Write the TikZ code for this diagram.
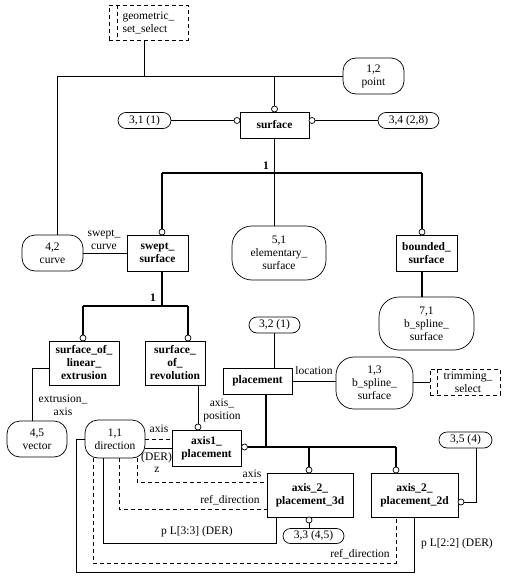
\documentclass[tikz,border=0pt]{standalone}
\usepackage{fontspec}
\setmainfont{Liberation Serif}
\usetikzlibrary{calc}
\newcommand{\dfont}{\fontsize{11.5}{13}\selectfont}
\tikzset{
  ln/.style={line width=0.7pt},
  tk/.style={line width=1.4pt},
  dsh/.style={line width=0.7pt, dash pattern=on 4pt off 3pt},
  ent/.style={draw, line width=0.7pt, font=\dfont\bfseries, align=center, inner sep=0pt, fill=white},
  pref/.style={draw, line width=0.7pt, rounded corners=#1, font=\dfont, align=center, inner sep=0pt, fill=white},
  selbox/.style={draw, dsh, font=\dfont, inner sep=0pt},
  oc/.style={circle, draw, fill=white, inner sep=0pt, minimum size=6pt, line width=0.7pt},
  lbl/.style={font=\dfont, align=center, inner sep=0pt},
}
\begin{document}
\begin{tikzpicture}[x=1pt,y=-1pt]
\useasboundingbox (0,0) rectangle (511,578);

% ---------- nodes ----------
\node[selbox, align=left, minimum width=79, minimum height=35] (gss) at (148.5,22.5) {geometric\_\\set\_select};
\draw[dsh] ($(gss.north west)+(9,0)$) -- ($(gss.south west)+(9,0)$);
\node[pref=13, minimum width=61, minimum height=36] (point) at (373.5,76) {1,2\\point};
\node[ent, minimum width=69, minimum height=26] (surface) at (274.5,125) {surface};
\node[pref=8, minimum width=53, minimum height=16] (p31) at (144.5,120.5) {3,1 (1)};
\node[pref=8, minimum width=61, minimum height=16] (p34) at (408.5,120.5) {3,4 (2,8)};
\node[pref=13, minimum width=61, minimum height=36] (curve) at (52.5,253) {4,2\\curve};
\node[ent, minimum width=61, minimum height=36] (swept) at (157.5,253) {swept\_\\surface};
\node[pref=20, minimum width=94, minimum height=54] (elem) at (279,253) {5,1\\elementary\_\\surface};
\node[ent, minimum width=61, minimum height=36] (bounded) at (426.5,253) {bounded\_\\surface};
\node[pref=20, minimum width=95, minimum height=53] (bss71) at (426.5,323.5) {7,1\\b\_spline\_\\surface};
\node[ent, minimum width=70, minimum height=44] (sole) at (84,363) {surface\_of\_\\linear\_\\extrusion};
\node[ent, minimum width=60, minimum height=44] (sor) at (175,363) {surface\_\\of\_\\revolution};
\node[pref=8, minimum width=51, minimum height=16] (p32) at (274.5,325) {3,2 (1)};
\node[ent, minimum width=69, minimum height=26] (placement) at (257.5,381) {placement};
\node[pref=18, minimum width=77, minimum height=52] (bss13) at (374.5,383) {1,3\\b\_spline\_\\surface};
\node[selbox, align=center, minimum width=70, minimum height=26] (trim) at (465,382) {\hspace*{6pt}trimming\_\\\hspace*{6pt}select};
\draw[dsh] ($(trim.north west)+(8,0)$) -- ($(trim.south west)+(8,0)$);
\node[pref=13, minimum width=60, minimum height=36] (vector) at (37,439) {4,5\\vector};
\node[pref=13, minimum width=60, minimum height=38] (dir) at (115,439) {1,1\\direction};
\node[ent, minimum width=69, minimum height=36] (a1p) at (206.5,448) {axis1\_\\placement};
\node[ent, minimum width=86, minimum height=44] (a3d) at (310,495) {axis\_2\_\\placement\_3d};
\node[ent, minimum width=87, minimum height=44] (a2d) at (414.5,495) {axis\_2\_\\placement\_2d};
\node[pref=8, minimum width=53, minimum height=16] (p35) at (465.5,440) {3,5 (4)};
\node[pref=7.5, minimum width=61, minimum height=15] (p33) at (313.5,536) {3,3 (4,5)};

% ---------- circles ----------
\node[oc] (cs) at (274.5,109) {};
\node[oc] (c31) at (237,120.5) {};
\node[oc] (c34) at (312,120.5) {};
\node[oc] (csw) at (162,232) {};
\node[oc] (cbd) at (422,232) {};
\node[oc] (csl) at (83,338) {};
\node[oc] (csr) at (188,338) {};
\node[oc] (ca1t) at (198,427) {};
\node[oc] (ca1r) at (244.5,447) {};
\node[oc] (c3t) at (309,470) {};
\node[oc] (c2t) at (396,470) {};
\node[oc] (c2r) at (461,502) {};
\node[oc] (c3b) at (309,520) {};

% ---------- top bus ----------
\coordinate (bj) at (144,76);
\coordinate (bl) at (57,76);
\coordinate (bs) at (274.5,76);
\draw[ln] (gss.south -| bj) -- (bj);
\draw[ln] (bl) -- (point.west);
\draw[ln] (bl) -- (curve.north -| bl);
\draw[ln] (bs) -- (cs.north);
\draw[ln] (p31.east) -- (c31.west);
\draw[ln] (c34.east) -- (p34.west);

% ---------- subtype trees ----------
\coordinate (t1) at (274.5,173);
\coordinate (tL) at (162,173);
\coordinate (tR) at (422,173);
\draw[tk] (surface.south) -- (t1);
\draw[tk] (tL) -- (tR);
\draw[tk] (tL) -- (csw.north);
\draw[tk] (t1) -- (elem.north -| t1);
\draw[tk] (tR) -- (cbd.north);
\node[lbl, font=\dfont\bfseries] at (266,166) {1};
\draw[tk] (bounded.south -| cbd) -- (bss71.north -| cbd);

\coordinate (t2) at (162,306);
\coordinate (t2L) at (83,306);
\coordinate (t2R) at (188,306);
\draw[tk] (swept.south -| t2) -- (t2);
\draw[tk] (t2L) -- (t2R);
\draw[tk] (t2L) -- (csl.north);
\draw[tk] (t2R) -- (csr.north);
\node[lbl, font=\dfont\bfseries] at (153,298) {1};

\draw[tk] (p32.south) -- (placement.north -| p32.south);
\coordinate (t3) at (266,447);
\draw[tk] (placement.south -| t3) -- (t3);
\draw[tk] (ca1r.east) -- (c2t |- ca1r);
\draw[tk] (c3t |- ca1r) -- (c3t.north);
\draw[tk] (c2t |- ca1r) -- (c2t.north);

% ---------- attributes ----------
\draw[ln] (curve.east) -- (swept.west);
\node[lbl] at (104,240) {swept\_\\curve};
\coordinate (ex) at (32,368);
\draw[ln] (sole.west |- ex) -- (ex) -- (vector.north -| ex);
\node[lbl] at (63,405) {extrusion\_\\axis};
\draw[ln] (sor.south -| ca1t) -- (ca1t.north);
\node[lbl] at (222,410) {axis\_\\position};
\draw[ln] (placement.east) -- (bss13.west |- placement.east);
\node[lbl] at (314,371) {location};
\draw[ln] (bss13.east |- trim.west) -- (trim.west);
\coordinate (q) at (476,502);
\draw[ln] (p35.south -| q) -- (q) -- (c2r.east);
\draw[ln] (c3b.south) -- (p33.north -| c3b);

% direction links
\draw[dsh] (dir.east) -- (dir.east -| a1p.west);
\node[lbl] at (159,429) {axis};
\draw[ln] (a1p.west) -- (a1p.west -| dir.east);
\node[lbl] at (156.5,458) {(DER)};
\node[lbl] at (157,470) {z};

\draw[dsh] ($(dir.south)+(22,0)$) |- ($(a3d.west)+(0,-13)$);
\node[lbl] at (252,474) {axis};
\draw[dsh] ($(dir.south)+(4,0)$) |- ($(a3d.west)+(0,14)$);
\node[lbl] at (230,500) {ref\_direction};
\draw[ln] ($(dir.south)+(-12,0)$) |- ($(a3d.south)+(-34,26)$) -- ($(a3d.south)+(-34,0)$);
\node[lbl] at (197,532) {p L[3:3] (DER)};
\draw[dsh] ($(dir.south)+(-22,0)$) |- ($(a2d.south)+(-18.5,46)$) -- ($(a2d.south)+(-18.5,0)$);
\node[lbl] at (360,554) {ref\_direction};
\draw[ln] (dir.west) -- ++(-8,0) |- ($(a2d.south)+(0,55)$) -- (a2d.south);
\node[lbl] at (457,544) {p L[2:2] (DER)};
\end{tikzpicture}
\end{document}
